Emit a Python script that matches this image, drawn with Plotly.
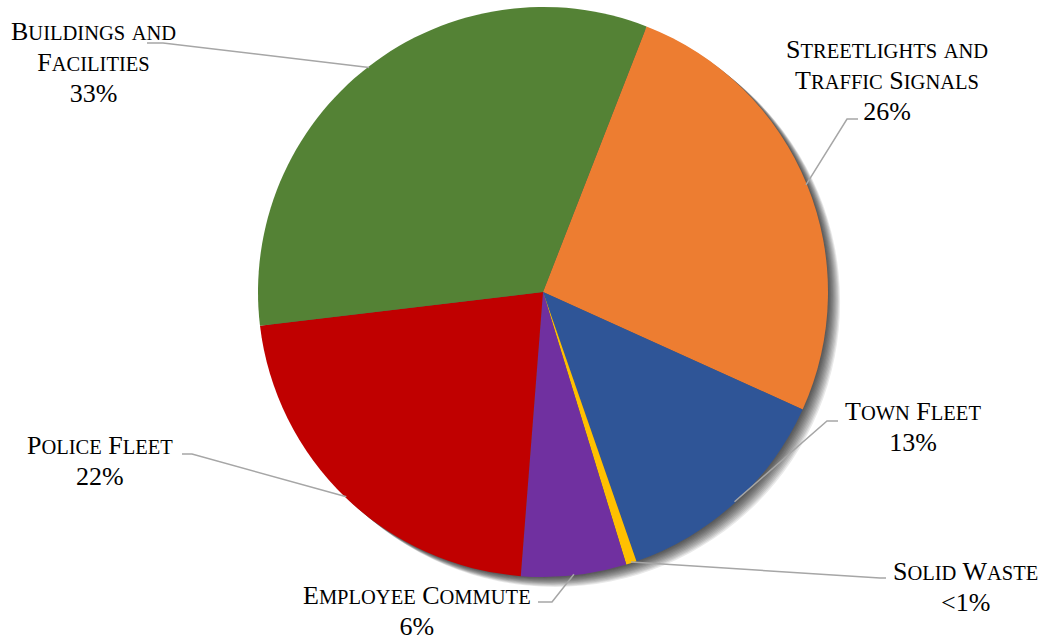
import math
import plotly.graph_objects as go

# Emissions share by sector (percent), in drawing order (clockwise from the top)
sectors = ["Streetlights and\nTraffic Signals", "Town Fleet", "Solid Waste",
           "Employee Commute", "Police Fleet", "Buildings and\nFacilities"]
shares = [26, 13, 0.6, 6, 22, 33]
share_labels = ["26%", "13%", "<1%", "6%", "22%", "33%"]
colors = ["#ED7D31", "#2F5597", "#FFC000", "#7030A0", "#C00000", "#548235"]

W, H = 1047, 640
CX, CY, R = 543, 292, 285          # pie centre and radius in pixels
START = 21.3                       # first slice boundary, degrees clockwise from 12 o'clock
BIG, SMALL = 26, 20.5              # capital / small-capital sizes for the labels
SERIF = "'Liberation Serif', 'Times New Roman', serif"


def px(x):
    return x / W


def py(y):
    return 1 - y / H


def domain(dx=0, dy=0):
    return dict(x=[px(CX - R + dx), px(CX + R + dx)],
                y=[py(CY + R + dy), py(CY - R + dy)])


def small_caps(s):
    """Render lowercase letters as reduced capitals, everything else full size."""
    out, run, run_small = [], "", None
    for ch in s:
        is_small = ch.islower()
        if run and is_small != run_small:
            out.append((run, run_small))
            run = ""
        run += ch.upper() if is_small else ch
        run_small = is_small
    if run:
        out.append((run, run_small))
    html = ""
    for text, sm in out:
        text = text.replace("<", "&lt;")
        size = SMALL if sm else BIG
        html += f'<span style="font-size:{size}px">{text}</span>'
    return html


fig = go.Figure()

# soft drop shadow: stacked translucent grey discs offset to the lower right
for k in range(1, 12):
    fig.add_trace(go.Pie(values=[1], labels=["shadow"], domain=domain(k * 1.1, k * 0.9),
                         marker=dict(colors=["#000000"], line=dict(width=0)),
                         opacity=0.085, textinfo="none", hoverinfo="skip",
                         showlegend=False, sort=False))

fig.add_trace(go.Pie(
    values=shares, labels=[s.replace("\n", " ") for s in sectors],
    domain=domain(), sort=False, direction="clockwise", rotation=START,
    marker=dict(colors=colors, line=dict(width=0)),
    textinfo="none", hoverinfo="label+percent", showlegend=False))

# label block centres and leader-line elbows (pixels)
label_pos = [(887, 80), (913, 427), (965, 587), (417, 611), (100, 461), (93, 62)]
elbows = [[(847, 119), (858, 119)],
          [(827, 421), (838, 421)],
          [(880, 578), (886, 578)],
          [(552, 602), (538, 602)],
          [(192, 454), (182, 454)],
          [(163, 43), (147, 43)]]

total = sum(shares)
acc = 0.0
shapes = []
annotations = []
for name, val, lab, pos, elb in zip(sectors, shares, share_labels, label_pos, elbows):
    mid = START + 360 * (acc + val / 2) / total
    acc += val
    a = math.radians(mid)
    sx, sy = CX + (R - 1) * math.sin(a), CY - (R - 1) * math.cos(a)
    pts = [(sx, sy)] + elb
    path = "M " + " L ".join(f"{px(x):.5f},{py(y):.5f}" for x, y in pts)
    shapes.append(dict(type="path", path=path, xref="paper", yref="paper",
                       line=dict(color="#A6A6A6", width=1.5)))
    lines = name.split("\n") + [lab]
    annotations.append(dict(
        text="<br>".join(small_caps(t) for t in lines),
        x=px(pos[0]), y=py(pos[1]), xref="paper", yref="paper",
        xanchor="center", yanchor="middle", align="center", showarrow=False,
        font=dict(family=SERIF, size=24, color="#000000")))

fig.update_layout(width=W, height=H, margin=dict(l=0, r=0, t=0, b=0),
                  paper_bgcolor="white", plot_bgcolor="white",
                  shapes=shapes, annotations=annotations)

fig.write_html("out.html")
